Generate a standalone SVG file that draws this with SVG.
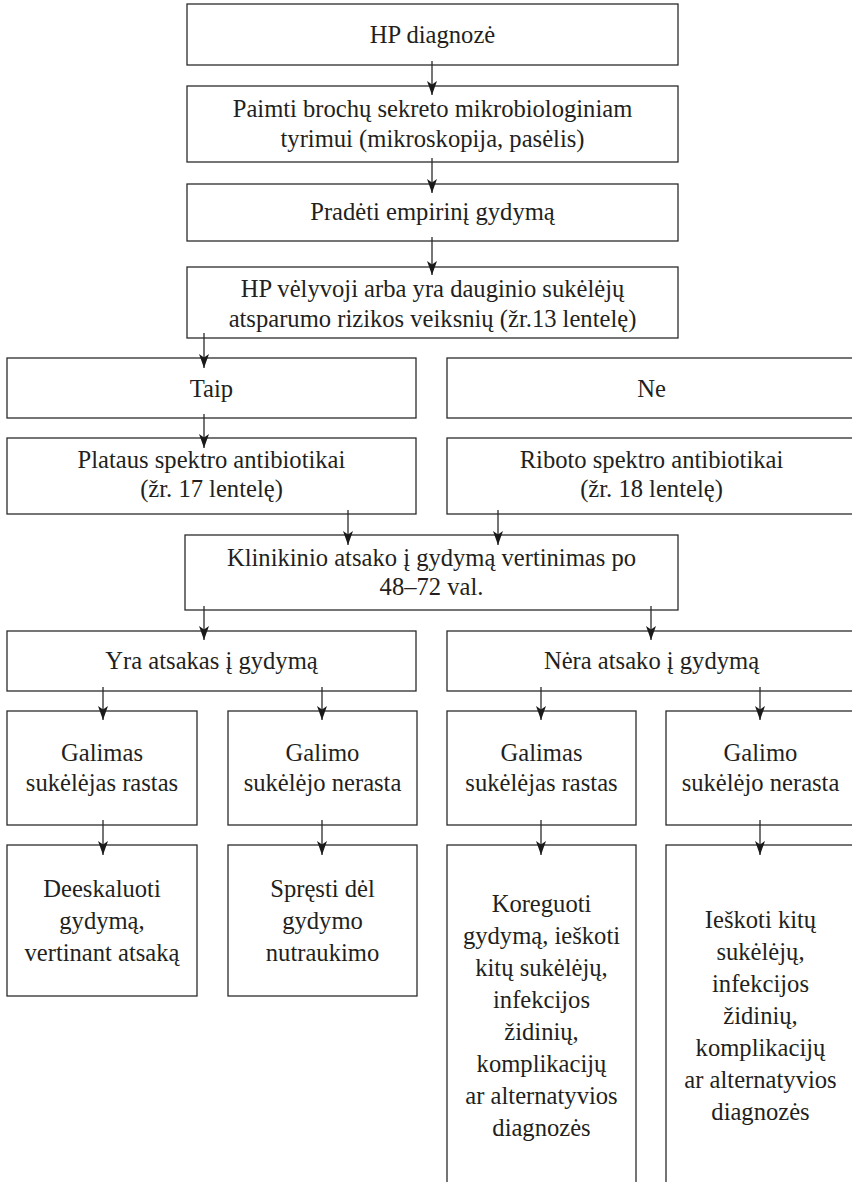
<svg xmlns="http://www.w3.org/2000/svg" width="852" height="1182" viewBox="0 0 852 1182">
<style>
  .box { fill: #ffffff; stroke: #2b2b2b; stroke-width: 1.3; }
  .t { font-family: 'Liberation Serif', 'Times New Roman', serif; font-size: 24.6px; fill: #231f20; text-anchor: middle; }
  .conn line { stroke: #2b2b2b; stroke-width: 1.3; marker-end: url(#arr); }
</style>
<defs>
  <marker id="arr" markerUnits="userSpaceOnUse" markerWidth="18" markerHeight="14" viewBox="-16 -7 18 14" refX="0" refY="0" orient="auto" overflow="visible">
    <path d="M0,0 L-14,-5 L-10.5,0 L-14,5 Z" fill="#1a1a1a"/>
  </marker>
</defs>
<rect width="852" height="1182" fill="#ffffff"/>

<g id="n1"><rect class="box" x="187" y="4" width="491" height="61"/>
  <text class="t" x="432.5" y="43">HP diagnozė</text></g>
<g id="n2"><rect class="box" x="187" y="86" width="491" height="76"/>
  <text class="t" x="432.5" y="117">Paimti brochų sekreto mikrobiologiniam</text>
  <text class="t" x="432.5" y="147">tyrimui (mikroskopija, pasėlis)</text></g>
<g id="n3"><rect class="box" x="187" y="184" width="491" height="57"/>
  <text class="t" x="432.5" y="220">Pradėti empirinį gydymą</text></g>
<g id="n4"><rect class="box" x="187" y="267" width="491" height="71"/>
  <text class="t" x="432.5" y="297">HP vėlyvoji arba yra dauginio sukėlėjų</text>
  <text class="t" x="432.5" y="327">atsparumo rizikos veiksnių (žr.13 lentelę)</text></g>

<g id="taip"><rect class="box" x="7" y="358" width="409" height="60"/>
  <text class="t" x="211.5" y="397">Taip</text></g>
<g id="ne"><rect class="box" x="447" y="358" width="409" height="60"/>
  <text class="t" x="651.5" y="397">Ne</text></g>

<g id="platus"><rect class="box" x="7" y="438" width="409" height="76"/>
  <text class="t" x="211.5" y="468">Plataus spektro antibiotikai</text>
  <text class="t" x="211.5" y="497">(žr. 17 lentelę)</text></g>
<g id="riboto"><rect class="box" x="447" y="438" width="409" height="76"/>
  <text class="t" x="651.5" y="468">Riboto spektro antibiotikai</text>
  <text class="t" x="651.5" y="497">(žr. 18 lentelę)</text></g>

<g id="klin"><rect class="box" x="185" y="535" width="493" height="75"/>
  <text class="t" x="431.5" y="566">Klinikinio atsako į gydymą vertinimas po</text>
  <text class="t" x="431.5" y="595">48–72 val.</text></g>

<g id="yra"><rect class="box" x="7" y="631" width="409" height="60"/>
  <text class="t" x="211.5" y="669">Yra atsakas į gydymą</text></g>
<g id="nera"><rect class="box" x="447" y="631" width="409" height="60"/>
  <text class="t" x="651.5" y="669">Nėra atsako į gydymą</text></g>

<g id="g1"><rect class="box" x="7" y="711" width="190" height="114"/>
  <text class="t" x="102" y="761">Galimas</text>
  <text class="t" x="102" y="791">sukėlėjas rastas</text></g>
<g id="g2"><rect class="box" x="228" y="711" width="189" height="114"/>
  <text class="t" x="322.5" y="761">Galimo</text>
  <text class="t" x="322.5" y="791">sukėlėjo nerasta</text></g>
<g id="g3"><rect class="box" x="447" y="711" width="189" height="114"/>
  <text class="t" x="541.5" y="761">Galimas</text>
  <text class="t" x="541.5" y="791">sukėlėjas rastas</text></g>
<g id="g4"><rect class="box" x="666" y="711" width="189" height="114"/>
  <text class="t" x="760.5" y="761">Galimo</text>
  <text class="t" x="760.5" y="791">sukėlėjo nerasta</text></g>

<g id="b1"><rect class="box" x="7" y="845" width="190" height="151"/>
  <text class="t" x="102" y="897">Deeskaluoti</text>
  <text class="t" x="102" y="929">gydymą,</text>
  <text class="t" x="102" y="961">vertinant atsaką</text></g>
<g id="b2"><rect class="box" x="228" y="845" width="189" height="151"/>
  <text class="t" x="322.5" y="897">Spręsti dėl</text>
  <text class="t" x="322.5" y="929">gydymo</text>
  <text class="t" x="322.5" y="961">nutraukimo</text></g>
<g id="b3"><rect class="box" x="447" y="845" width="189" height="350"/>
  <text class="t" x="541.5" y="912">Koreguoti</text>
  <text class="t" x="541.5" y="944">gydymą, ieškoti</text>
  <text class="t" x="541.5" y="976">kitų sukėlėjų,</text>
  <text class="t" x="541.5" y="1008">infekcijos</text>
  <text class="t" x="541.5" y="1040">židinių,</text>
  <text class="t" x="541.5" y="1072">komplikacijų</text>
  <text class="t" x="541.5" y="1104">ar alternatyvios</text>
  <text class="t" x="541.5" y="1136">diagnozės</text></g>
<g id="b4"><rect class="box" x="666" y="845" width="189" height="350"/>
  <text class="t" x="760.5" y="928">Ieškoti kitų</text>
  <text class="t" x="760.5" y="960">sukėlėjų,</text>
  <text class="t" x="760.5" y="992">infekcijos</text>
  <text class="t" x="760.5" y="1024">židinių,</text>
  <text class="t" x="760.5" y="1056">komplikacijų</text>
  <text class="t" x="760.5" y="1088">ar alternatyvios</text>
  <text class="t" x="760.5" y="1120">diagnozės</text></g>

<g id="connectors" class="conn">
  <line x1="432" y1="61" x2="432" y2="95"/>
  <line x1="432" y1="158" x2="432" y2="193"/>
  <line x1="432" y1="237" x2="432" y2="275"/>
  <line x1="204" y1="333" x2="204" y2="368"/>
  <line x1="204" y1="414" x2="204" y2="448"/>
  <line x1="348" y1="510" x2="348" y2="545"/>
  <line x1="498" y1="510" x2="498" y2="545"/>
  <line x1="204" y1="606" x2="204" y2="640"/>
  <line x1="651" y1="606" x2="651" y2="640"/>
  <line x1="103" y1="687" x2="103" y2="720"/>
  <line x1="322" y1="687" x2="322" y2="720"/>
  <line x1="541" y1="687" x2="541" y2="720"/>
  <line x1="760" y1="687" x2="760" y2="720"/>
  <line x1="103" y1="820" x2="103" y2="855"/>
  <line x1="322" y1="820" x2="322" y2="855"/>
  <line x1="541" y1="820" x2="541" y2="855"/>
  <line x1="760" y1="820" x2="760" y2="855"/>
</g>
</svg>
